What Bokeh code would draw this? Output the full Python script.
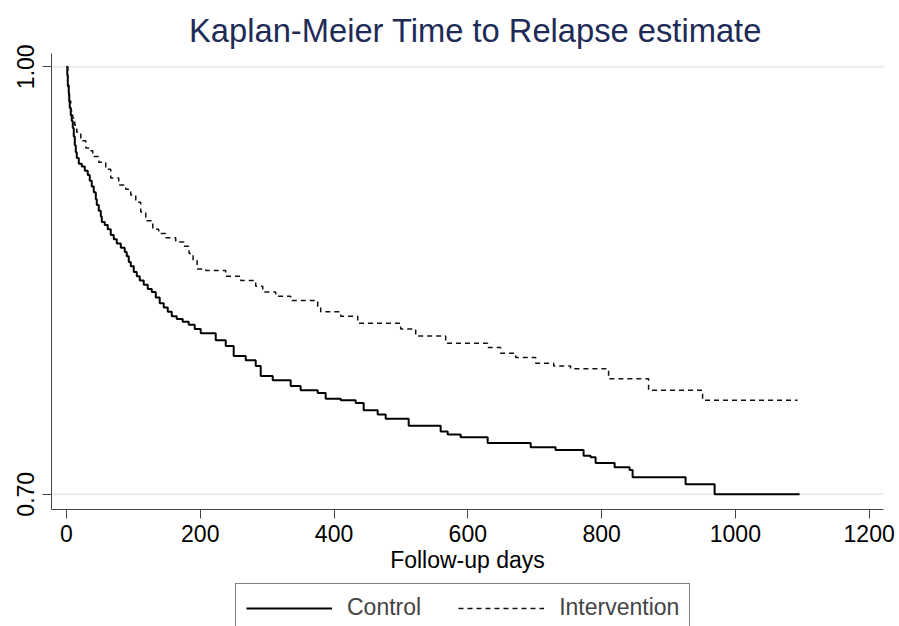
from bokeh.embed import file_html
from bokeh.models import (FixedTicker, Legend, LegendItem, Range1d,
                          NumeralTickFormatter)
from bokeh.plotting import figure
from bokeh.resources import INLINE

# Kaplan-Meier step estimates: time (days) at which each new level begins
control_days = [0, 1.2, 1.9, 3.4, 4.2, 4.9, 6.4, 7.9, 9.4, 10.9, 12.4, 13.9,
                15.4, 18.4, 22.9, 27.4, 31.8, 34.8, 37.8, 40.8, 43.8, 45.3,
                48.3, 51.3, 52.8, 57.2, 61.7, 66.2, 70.7, 75.2, 81.2, 87.1,
                90.1, 93.1, 96.1, 100.6, 105.1, 109.5, 115.5, 121.5, 127.5,
                133.5, 139.4, 145.4, 151.4, 157.4, 164.8, 173.8, 182.8,
                191.7, 200.7, 223.1, 238.1, 250.0, 268.0, 282.9, 290.4,
                308.3, 335.2, 350.1, 375.6, 387.5, 410.0, 432.4, 444.3,
                465.3, 477.2, 511.6, 559.4, 569.9, 589.3, 629.7, 694.0,
                731.2, 773.1, 783.6, 791.1, 819.5, 841.9, 846.4, 925.6,
                969.0, 1096.0]
control_surv = [1.000, 0.994, 0.987, 0.981, 0.976, 0.971, 0.966, 0.962,
                0.957, 0.951, 0.945, 0.940, 0.936, 0.932, 0.930, 0.927,
                0.924, 0.920, 0.916, 0.912, 0.907, 0.903, 0.899, 0.895,
                0.891, 0.889, 0.886, 0.882, 0.879, 0.876, 0.873, 0.870,
                0.867, 0.863, 0.860, 0.856, 0.853, 0.850, 0.847, 0.844,
                0.842, 0.838, 0.834, 0.831, 0.828, 0.825, 0.823, 0.821,
                0.819, 0.816, 0.813, 0.808, 0.804, 0.797, 0.794, 0.790,
                0.783, 0.780, 0.776, 0.773, 0.771, 0.767, 0.766, 0.764,
                0.759, 0.756, 0.753, 0.748, 0.744, 0.742, 0.740, 0.736,
                0.733, 0.731, 0.727, 0.726, 0.722, 0.719, 0.717, 0.712,
                0.707, 0.700, 0.700]

intervention_days = [0, 2.0, 3.4, 6.4, 9.4, 12.4, 15.4, 21.4, 28.9, 33.3,
                     39.3, 48.3, 58.7, 66.2, 78.1, 88.6, 96.1, 103.6, 111.0,
                     118.5, 129.0, 137.9, 148.4, 163.3, 175.3, 183.3, 189.3,
                     195.3, 208.2, 238.1, 260.5, 282.9, 293.4, 312.8, 335.2,
                     375.6, 380.1, 410.0, 435.4, 499.6, 522.1, 566.9, 629.7,
                     649.1, 671.6, 701.5, 728.4, 753.7, 810.5, 870.3, 951.0,
                     1093.0]
intervention_surv = [1.000, 0.986, 0.976, 0.969, 0.964, 0.959, 0.954, 0.948,
                     0.943, 0.941, 0.937, 0.933, 0.928, 0.922, 0.917, 0.914,
                     0.910, 0.905, 0.898, 0.892, 0.886, 0.883, 0.880, 0.877,
                     0.874, 0.869, 0.864, 0.858, 0.857, 0.853, 0.850, 0.846,
                     0.842, 0.839, 0.836, 0.832, 0.828, 0.825, 0.820, 0.816,
                     0.811, 0.806, 0.803, 0.799, 0.796, 0.792, 0.790, 0.788,
                     0.781, 0.773, 0.766, 0.766]

x_ticks = [0, 200, 400, 600, 800, 1000, 1200]
y_ticks = [0.70, 1.00]

FONT = "Liberation Sans"

# Extent of the drawn axes; the frame is a little larger on the right and
# at the bottom so the last tick label and the legend are not clipped.
X_LOW, X_HIGH = -22.4, 1221.5
Y_LOW, Y_HIGH = 0.6893, 1.0093
X_FRAME_HIGH = 1245.4
Y_FRAME_LOW = 0.6037

p = figure(frame_width=848, frame_height=578, output_backend="svg",
           toolbar_location=None,
           x_range=Range1d(X_LOW, X_FRAME_HIGH),
           y_range=Range1d(Y_FRAME_LOW, Y_HIGH),
           min_border_left=51, min_border_right=0, min_border_top=53,
           min_border_bottom=0)

p.title.text = "Kaplan-Meier Time to Relapse estimate"
p.title.align = "center"
p.title.offset = -8
p.title.text_font = FONT
p.title.text_font_size = "32.7px"
p.title.text_font_style = "normal"
p.title.text_color = "#1e2b57"

p.outline_line_color = None
p.background_fill_color = "white"
p.border_fill_color = "white"

# Only the two reference lines at the ends of the survival axis,
# limited to the axis extent
p.xgrid.visible = False
p.ygrid.visible = False
p.segment(x0=[X_LOW] * len(y_ticks), x1=[X_HIGH] * len(y_ticks),
          y0=y_ticks, y1=y_ticks, line_color="#e6eef1", line_width=2)

p.xaxis.ticker = FixedTicker(ticks=x_ticks)
p.xaxis.fixed_location = Y_LOW
p.xaxis.bounds = (X_LOW, X_HIGH)
p.yaxis.ticker = FixedTicker(ticks=y_ticks)
p.yaxis.bounds = (Y_LOW, Y_HIGH)
p.yaxis.formatter = NumeralTickFormatter(format="0.00")
p.yaxis.major_label_orientation = "parallel"

for ax in (p.xaxis, p.yaxis):
    ax.axis_line_color = "#444444"
    ax.major_tick_line_color = "#444444"
    ax.major_tick_in = 0
    ax.major_tick_out = 9
    ax.minor_tick_line_color = None
    ax.major_label_text_font = FONT
    ax.major_label_text_font_size = "23px"
    ax.major_label_text_color = "black"

p.xaxis.major_label_standoff = 6
p.yaxis.major_label_standoff = 8
p.xaxis.axis_label = "Follow-up days"
p.xaxis.axis_label_text_font = FONT
p.xaxis.axis_label_text_font_size = "23px"
p.xaxis.axis_label_text_font_style = "normal"
p.xaxis.axis_label_text_color = "black"
p.xaxis.axis_label_standoff = 2

r_control = p.step(control_days, control_surv, mode="after",
                   line_color="black", line_width=2)
r_interv = p.step(intervention_days, intervention_surv, mode="after",
                  line_color="#111111", line_width=1.5, line_dash="5 4")

legend = Legend(items=[LegendItem(label="Control", renderers=[r_control]),
                       LegendItem(label="Intervention", renderers=[r_interv])],
                orientation="horizontal", location=(184, -1),
                glyph_width=86, glyph_height=26, label_height=26,
                label_standoff=15, spacing=37, padding=10, margin=0,
                label_text_font=FONT, label_text_font_size="23px",
                border_line_color="black", border_line_width=1,
                background_fill_color="white", background_fill_alpha=1)
p.add_layout(legend, "center")

open("out.html", "w").write(file_html(p, INLINE))
